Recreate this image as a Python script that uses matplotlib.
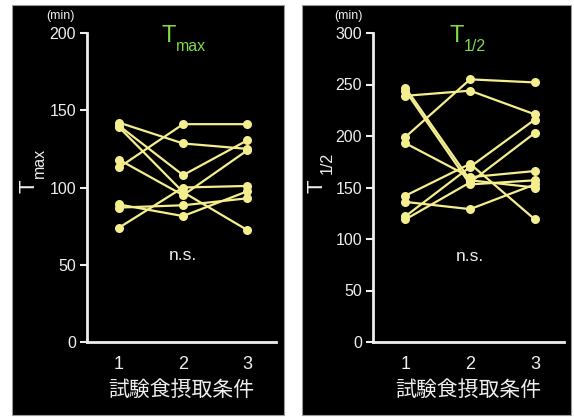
import matplotlib
matplotlib.use("Agg")
import matplotlib.pyplot as plt
from matplotlib.patches import Rectangle

plt.rcParams['font.family'] = ['Liberation Sans', 'Noto Sans CJK JP', 'DejaVu Sans']

# data (min), one row per subject: condition 1, 2, 3
conditions = [1, 2, 3]
tmax_values = [
    [142, 128.5, 125],
    [140, 108, 130.5],
    [139, 97, 72.5],
    [118, 95, 124],
    [113, 141, 141],
    [89, 81.5, 97.5],
    [87, 88.5, 93],
    [74, 100, 101],
]
thalf_values = [
    [239, 244, 221],
    [247, 157, 150],
    [244, 153, 157],
    [199, 255, 252],
    [193, 160, 166],
    [142, 173, 119],
    [136, 129, 153],
    [122, 170, 216],
    [119, 155, 203],
]
tmax_ticks = [0, 50, 100, 150, 200]
thalf_ticks = [0, 50, 100, 150, 200, 250, 300]
xlabel_text = "試験食摂取条件"

W, H = 574, 417
yellow = '#f4ee8e'
green = '#7fd94e'
white = '#eeeeee'

fig = plt.figure(figsize=(W / 100, H / 100), dpi=100, facecolor='white')

# black panels behind each chart
for x0, x1 in [(12, 284), (302, 571)]:
    fig.add_artist(Rectangle((x0 / W, 1 - 415 / H), (x1 - x0) / W, 410 / H,
                             transform=fig.transFigure, facecolor='black',
                             edgecolor='#999999', lw=0.8, zorder=0))


def make_panel(left, right, values, ticks, ylim, sub, ns_y, px):
    ax = fig.add_axes([left / W, (H - 342) / H, (right - left) / W, (342 - 33) / H])
    ax.set_facecolor('none')
    for row in values:
        ax.plot(conditions, row, '-o', color=yellow, lw=1.6, ms=6.5,
                markeredgewidth=0, clip_on=False)
    ax.set_xlim(0.5, 3.45)
    ax.set_ylim(0, ylim)
    ax.set_yticks(ticks)
    ax.set_xticks(conditions)
    for s in ['top', 'right']:
        ax.spines[s].set_visible(False)
    for s in ['left', 'bottom']:
        ax.spines[s].set_color(white)
        ax.spines[s].set_linewidth(2)
    ax.tick_params(axis='y', colors=white, labelsize=11.5, length=5, width=1.5, pad=3)
    ax.tick_params(axis='x', colors=white, labelsize=13, length=0, pad=10)
    ax.set_xlabel(xlabel_text, color=white, fontsize=15, labelpad=4,
                  family=['Noto Sans CJK JP', 'DejaVu Sans'])
    ax.text(2, ns_y, "n.s.", color=white, fontsize=12.5, ha='center', va='center')

    # title T with subscript
    fig.text((px + 148) / W, 1 - 42 / H, "T", color=green, fontsize=17, va='baseline')
    fig.text((px + 162) / W, 1 - 51 / H, sub, color=green, fontsize=11.5, va='baseline')
    # y label T with subscript, rotated
    fig.text((px + 15) / W, 1 - 186 / H, "T", color=white, fontsize=16,
             rotation=90, ha='center', va='center')
    fig.text((px + 25) / W, 1 - 163 / H, sub, color=white, fontsize=11.5,
             rotation=90, ha='center', va='center')
    fig.text((px + 46) / W, 1 - 16 / H, "(min)", color=white, fontsize=9,
             ha='center', va='center')
    return ax


make_panel(87, 276, tmax_values, tmax_ticks, 200, "max", 56, 14)
make_panel(373, 564, thalf_values, thalf_ticks, 300, "1/2", 83, 302)

fig.savefig("out.png", dpi=100, facecolor='white')
